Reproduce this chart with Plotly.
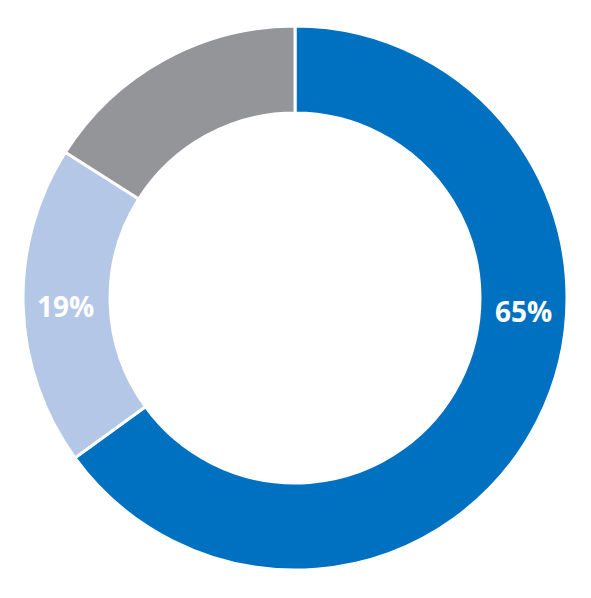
import plotly.graph_objects as go

labels = ["A", "B", "C"]
values = [65, 19, 16]
colors = ["#0070C0", "#B4C7E7", "#939598"]
shown_labels = [True, True, False]
label_pos = [(0.8723, 0.4933), (0.0973, 0.5017)]

fig = go.Figure(go.Pie(
    labels=labels,
    values=values,
    hole=0.68,
    sort=False,
    direction="clockwise",
    rotation=0,
    marker=dict(colors=colors, line=dict(color="white", width=3)),
    textinfo="none",
    hoverinfo="skip",
    showlegend=False,
    domain=dict(x=[0.0254, 0.9459], y=[0.0602, 0.9699]),
))

total = sum(values)
annotations = []
k = 0
for v, show in zip(values, shown_labels):
    if show:
        x, y = label_pos[k]
        k += 1
        annotations.append(dict(
            x=x, y=y, xref="paper", yref="paper",
            text=f"{round(100 * v / total)}%", showarrow=False,
            font=dict(family="Open Sans", size=28, color="white", weight="bold"),
            xanchor="center", yanchor="middle",
        ))

fig.update_layout(
    width=591, height=598,
    margin=dict(l=0, r=0, t=0, b=0),
    paper_bgcolor="white", plot_bgcolor="white",
    annotations=annotations,
)

fig.write_html("out.html")
